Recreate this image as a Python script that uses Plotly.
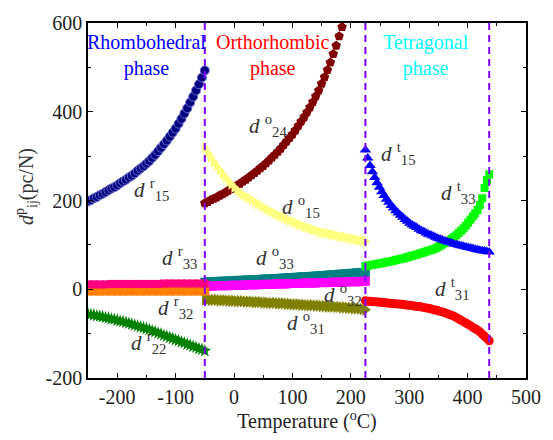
import plotly.graph_objects as go

FONT = "Liberation Serif, Times New Roman, Times, serif"

# Phase transition temperatures (°C)
phase_boundaries = [-50, 225, 437]

# Axis ticks
x_ticks = [-200, -100, 0, 100, 200, 300, 400, 500]
x_tick_text = ["-200", "-100", "0", "100", "200", "300", "400", "500"]
y_ticks = [-200, 0, 200, 400, 600]
y_tick_text = ["-200", "0", "200", "400", "600"]

# ---------------- Rhombohedral phase ----------------
T_r = list(range(-250, -49, 5))        # -250 .. -50, step 5
T_r10 = list(range(-250, -49, 10))     # -250 .. -50, step 10

d15_r = [198, 201, 205, 208, 212, 215, 219, 223, 227, 230,
         234, 239, 243, 247, 252, 256, 261, 267, 272, 277,
         283, 289, 296, 303, 311, 319, 327, 335, 344, 353,
         362, 373, 384, 396, 408, 421, 434, 448, 462, 477, 493]
d22_r = [-56, -57, -58, -60, -61, -62, -64, -65, -67, -68,
         -70, -72, -73, -75, -77, -79, -81, -83, -85, -87,
         -89, -91, -94, -96, -99, -101, -104, -106, -109, -111,
         -114, -116, -119, -121, -124, -126, -129, -131, -134, -136, -139]
d33_r = [11, 11, 11, 11, 12, 12, 12, 12, 12, 12, 12,
         12, 12, 13, 13, 13, 13, 13, 13, 13, 13]
d32_r = [-4, -4, -4, -4, -4, -4, -4, -4, -4, -4, -4,
         -4, -4, -4, -4, -4, -4, -4, -4, -4, -4]

# ---------------- Orthorhombic phase ----------------
T_o = list(range(-50, 226, 5))         # -50 .. 225, step 5
T_o24 = list(range(-50, 186, 5))       # -50 .. 185, step 5

d15_o = [318, 307, 297, 287, 278, 269, 260, 252, 244, 237, 230,
         224, 218, 213, 209, 205, 201, 197, 193, 189, 185,
         181, 177, 174, 170, 167, 164, 161, 158, 155, 152,
         149, 146, 144, 141, 139, 137, 134, 132, 130, 128,
         127, 125, 124, 122, 121, 119, 118, 117, 115, 114,
         113, 111, 110, 109, 108]
d24_o = [194, 197, 201, 204, 207, 211, 214, 218, 222, 226, 230,
         234, 238, 243, 247, 252, 257, 262, 267, 273, 278,
         284, 290, 297, 303, 310, 317, 325, 333, 341, 349,
         358, 368, 378, 388, 399, 410, 422, 435, 448, 463,
         478, 494, 511, 530, 549, 570, 591]
d33_o = [16, 16, 17, 17, 17, 18, 18, 18, 19, 19,
         19, 20, 20, 20, 21, 21, 21, 22, 22, 22,
         23, 23, 23, 24, 24, 24, 25, 25, 26, 26,
         26, 27, 27, 28, 28, 28, 29, 29, 30, 30,
         31, 31, 32, 32, 33, 33, 34, 34, 35, 35,
         36, 36, 37, 37, 38, 38]
d32_o = [7, 7, 7, 7, 8, 8, 8, 8, 8, 9,
         9, 9, 9, 9, 10, 10, 10, 10, 10, 11,
         11, 11, 11, 11, 12, 12, 12, 12, 12, 13,
         13, 13, 13, 13, 14, 14, 14, 14, 14, 15,
         15, 15, 15, 15, 16, 16, 16, 16, 16, 17,
         17, 17, 17, 17, 18, 18]
d31_o = [-23, -23, -24, -24, -24, -25, -25, -25, -26, -26,
         -26, -27, -27, -27, -28, -28, -28, -29, -29, -29,
         -30, -30, -31, -31, -31, -32, -32, -32, -33, -33,
         -34, -34, -34, -35, -35, -36, -36, -36, -37, -37,
         -38, -38, -39, -39, -39, -40, -40, -41, -41, -42,
         -42, -43, -43, -44, -45, -46]

# ---------------- Tetragonal phase ----------------
T_t = list(range(225, 438, 4))         # 225 .. 437, step 4

d15_t = [314, 296, 279, 265, 252, 240, 230, 220, 211, 203,
         196, 189, 183, 177, 172, 167, 162, 157, 153, 149,
         145, 142, 139, 135, 132, 130, 127, 124, 122, 120,
         117, 115, 113, 111, 109, 107, 106, 104, 102, 101,
         99, 98, 97, 95, 94, 93, 92, 90, 89, 88,
         87, 86, 85, 84]
d33_t = [52, 53, 54, 55, 56, 57, 58, 59, 60, 61,
         62, 63, 64, 66, 67, 68, 69, 71, 72, 74,
         75, 77, 78, 80, 82, 83, 85, 87, 88, 90,
         92, 95, 98, 101, 104, 107, 110, 114, 118, 122,
         127, 132, 137, 143, 150, 157, 164, 171, 179, 190,
         205, 228, 246, 259]
d31_t = [-26, -27, -27, -28, -28, -29, -29, -30, -30, -31,
         -31, -32, -32, -33, -33, -34, -34, -35, -36, -36,
         -37, -38, -39, -39, -40, -41, -42, -43, -44, -46,
         -47, -48, -50, -51, -53, -55, -57, -59, -61, -64,
         -67, -70, -73, -76, -79, -82, -86, -89, -92, -96,
         -101, -106, -111, -116]

fig = go.Figure()


def add(x, y, color, symbol, size, line_color=None, line_width=0):
    fig.add_trace(go.Scatter(
        x=x, y=y, mode="markers",
        marker=dict(color=color, symbol=symbol, size=size,
                    line=dict(color=line_color or color, width=line_width)),
        hoverinfo="skip",
    ))


# drawing order controls which band sits on top where they meet
add(T_o, d33_o, "#008080", "square", 9)
add(T_o, d32_o, "#FF00FF", "square", 9)
add(T_o, d31_o, "#808000", "triangle-right", 11)
add(T_r10, d32_r, "#FF8000", "square", 9)
add(T_r10, d33_r, "#FF0080", "square", 8)
add(T_r, d22_r, "#008000", "star", 10)
add(T_r, d15_r, "#000080", "circle", 9, "#6c6cc8", 1)
add(T_o24, d24_o, "#800000", "pentagon", 10)
add(T_o, d15_o, "#FFFF80", "triangle-right", 10)
add(T_t, d31_t, "#FF0000", "circle", 9)
add(T_t, d33_t, "#00FF00", "square", 8)
add(T_t, d15_t, "#0000FF", "triangle-up", 10)

# phase boundary markers
for b in phase_boundaries:
    fig.add_shape(type="line", xref="x", yref="paper", x0=b, x1=b, y0=0, y1=1,
                  line=dict(color="#8000FF", width=2, dash="7px,5px"), layer="above")

# phase names
phases = [("Rhombohedral<br>phase", -149, "#0000FF"),
          ("Orthorhombic<br>phase", 66, "#FF0000"),
          ("Tetragonal<br>phase", 328, "#00FFFF")]
for text, xc, col in phases:
    fig.add_annotation(x=xc, y=527, text=text, showarrow=False,
                       font=dict(family=FONT, size=20, color=col),
                       xanchor="center", yanchor="middle")

# coefficient labels: (phase letter, index, x, y)
coef_labels = [("r", "15", -141, 224), ("r", "33", -93, 71), ("r", "32", -101, -41),
               ("r", "22", -146, -120), ("o", "24", 58, 368), ("o", "15", 115, 186),
               ("o", "33", 70, 72), ("o", "32", 186, -11), ("o", "31", 123, -76),
               ("t", "15", 281, 305), ("t", "33", 384, 218), ("t", "31", 374, 1)]
for sup, sub, xc, yc in coef_labels:
    fig.add_annotation(x=xc, y=yc, showarrow=False,
                       text="<i>d</i> <sup>%s</sup><sub>%s</sub>" % (sup, sub),
                       font=dict(family=FONT, size=21, color="#333333"),
                       xanchor="center", yanchor="middle")

# y-axis title
fig.add_annotation(xref="paper", yref="paper", x=-0.14, y=0.54,
                   text="<i>d</i><sup>p</sup><sub>ij</sub>(pc/N)", textangle=-90,
                   showarrow=False, font=dict(family=FONT, size=20, color="#333333"),
                   xanchor="center", yanchor="middle")

axis_common = dict(showline=True, linecolor="black", linewidth=1.5, mirror="allticks",
                   ticks="inside", ticklen=5, tickwidth=1.3, tickcolor="black",
                   showgrid=False, zeroline=False,
                   tickfont=dict(family=FONT, size=20, color="#222222"))

fig.update_xaxes(range=[-250, 500], tickmode="array", tickvals=x_ticks, ticktext=x_tick_text,
                 minor=dict(ticks="inside", ticklen=3, dtick=50, tick0=0,
                            tickcolor="black", showgrid=False),
                 title=dict(text="Temperature (<sup>o</sup>C)", standoff=6,
                            font=dict(family=FONT, size=20, color="#222222")),
                 **axis_common)
fig.update_yaxes(range=[-200, 600], tickmode="array", tickvals=y_ticks, ticktext=y_tick_text,
                 minor=dict(ticks="inside", ticklen=3, dtick=100, tick0=0,
                            tickcolor="black", showgrid=False),
                 **axis_common)

fig.update_layout(width=553, height=440, margin=dict(l=88, r=16, t=15, b=61),
                  plot_bgcolor="white", paper_bgcolor="white", showlegend=False,
                  font=dict(family=FONT, size=20, color="#222222"))

fig.write_html("out.html")
